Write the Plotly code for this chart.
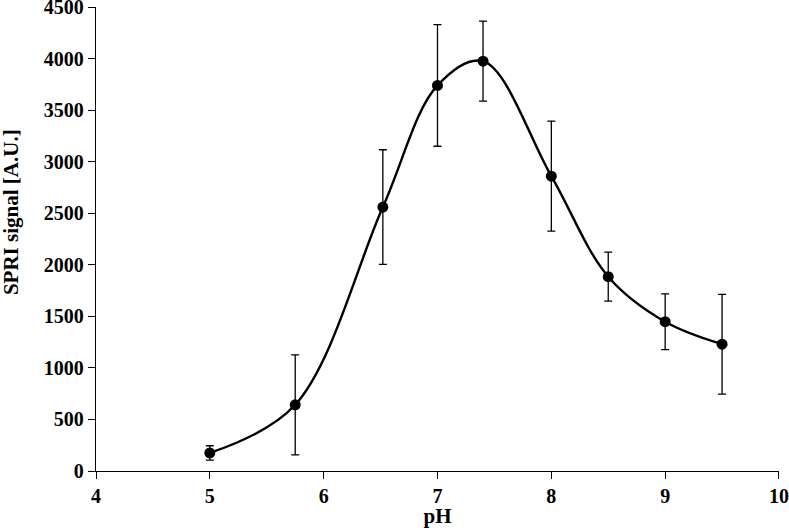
import plotly.graph_objects as go

ph = [5, 5.75, 6.52, 7, 7.4, 8, 8.5, 9, 9.5]
signal = [175, 642, 2560, 3740, 3975, 2860, 1885, 1448, 1230]
err = [70, 485, 556, 590, 388, 534, 238, 270, 484]

x_ticks = [4, 5, 6, 7, 8, 9, 10]
y_ticks = [0, 500, 1000, 1500, 2000, 2500, 3000, 3500, 4000, 4500]

font_family = "Liberation Serif, Times New Roman, serif"

fig = go.Figure()
fig.add_trace(go.Scatter(
    x=ph, y=signal, mode="lines",
    line=dict(color="black", width=2.4, shape="spline", smoothing=1.0),
    hoverinfo="skip", showlegend=False,
))
fig.add_trace(go.Scatter(
    x=ph, y=signal, mode="markers",
    marker=dict(color="black", size=11),
    error_y=dict(type="data", array=err, visible=True, color="black", thickness=1.3, width=4),
    showlegend=False,
))

fig.update_layout(
    width=789, height=528,
    margin=dict(l=96, r=10, t=7, b=57, autoexpand=False),
    paper_bgcolor="white", plot_bgcolor="white",
    font=dict(family=font_family, size=20, color="black"),
    xaxis=dict(
        range=[4, 10.0001], tickvals=x_ticks, ticktext=[str(v) for v in x_ticks],
        showline=True, linecolor="black", linewidth=1.3,
        ticks="outside", ticklen=7, tickwidth=1.3, tickcolor="black",
        showgrid=False, zeroline=False, automargin=False, ticklabeloverflow="allow",
        tickfont=dict(family=font_family, size=20, weight="bold"),
        title=dict(text="<b>pH</b>", font=dict(family=font_family, size=21), standoff=5),
    ),
    yaxis=dict(
        range=[0, 4500.5], tickvals=y_ticks, ticktext=[str(v) for v in y_ticks],
        showline=True, linecolor="black", linewidth=1.3,
        ticks="outside", ticklen=7, tickwidth=1.3, tickcolor="black",
        showgrid=False, zeroline=False, automargin=False, ticklabeloverflow="allow",
        tickfont=dict(family=font_family, size=20, weight="bold"),
    ),
    annotations=[dict(
        text="<b>SPRI signal [A.U.]</b>", textangle=-90,
        xref="paper", yref="paper", x=-0.1245, y=0.558,
        xanchor="center", yanchor="middle", showarrow=False,
        font=dict(family=font_family, size=21, color="black"),
    )],
)

fig.write_html(
    "out.html",
    config={"displayModeBar": False},
    post_script="document.body.style.margin='0';document.body.style.overflow='hidden';",
)
